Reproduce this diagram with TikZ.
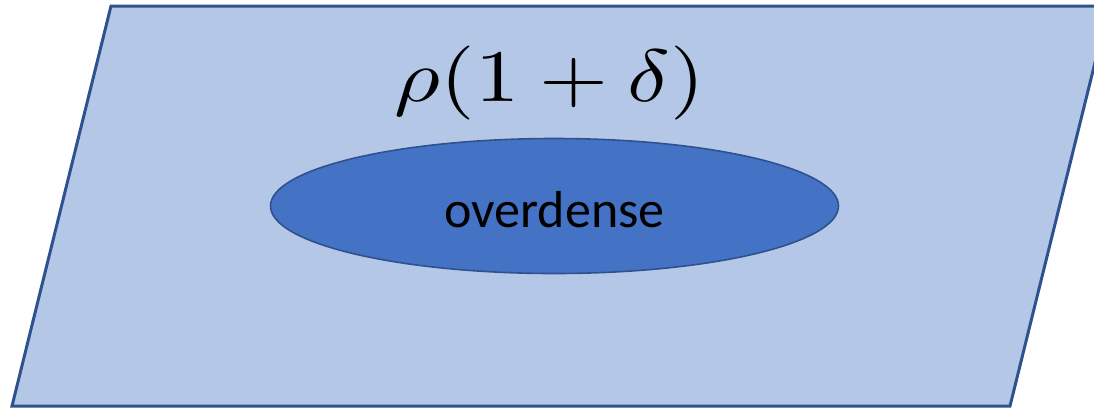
\documentclass[tikz,border=0pt]{standalone}
\usepackage{fontspec}
\usepackage{graphicx}
\usetikzlibrary{shapes.geometric}
\newfontfamily\carlito{Carlito}
\definecolor{planefill}{HTML}{B4C7E7}
\definecolor{edgeblue}{HTML}{2F528F}
\definecolor{blobfill}{HTML}{4472C4}
\tikzset{
  plane/.style={fill=planefill, draw=edgeblue, line width=3pt, line join=miter},
  blob/.style={ellipse, fill=blobfill, draw=edgeblue, line width=1.6pt,
    minimum width=568pt, minimum height=135pt, inner sep=0pt,
    font=\carlito\fontsize{52}{62}\selectfont, text height=42pt, text depth=0pt},
  formula/.style={inner sep=0pt}
}
\begin{document}
\begin{tikzpicture}[x=1pt,y=-1pt]
\useasboundingbox (0,0) rectangle (1094,408);
\clip (0,0) rectangle (1094,408);
\coordinate (p1) at (111,6);
\coordinate (p2) at (1109,6);
\coordinate (p3) at (1010,406);
\coordinate (p4) at (12,406);
\draw[plane] (p1) -- (p2) -- (p3) -- (p4) -- cycle;
\node[blob] (od) at (554.5,206) {overdense};
\node[formula] (rho) at (550,83) {\resizebox*{310pt}{74pt}{$\rho(1+\delta)$}};
\end{tikzpicture}
\end{document}
